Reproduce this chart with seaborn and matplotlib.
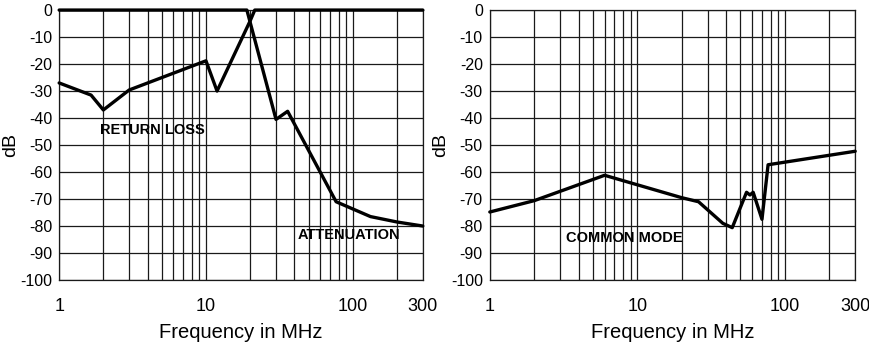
import numpy as np
import pandas as pd
import seaborn as sns
import matplotlib
matplotlib.use("Agg")
import matplotlib.pyplot as plt
from matplotlib.ticker import FixedLocator, NullFormatter

# values (frequency in MHz, level in dB)
atten_freq = [1, 19, 30, 36, 77, 132, 200, 300]
atten_db = [0, 0, -40.5, -37.5, -71, -76.5, -78.5, -80]

rloss_freq = [1, 1.65, 2, 3, 10, 11.9, 20, 21.5, 300]
rloss_db = [-27, -31.5, -37, -29.6, -18.8, -30, -4, 0, 0]

cm_freq = [1, 2, 6, 20, 26, 38, 44, 55, 58, 61, 70, 77, 300]
cm_db = [-74.8, -70.6, -61.2, -69.5, -71, -79, -80.6, -67.5, -68.5, -67.5, -77.5, -57.3, -52.3]

grid_x = [1, 2, 3, 4, 5, 6, 7, 8, 9, 10, 20, 30, 40, 50, 60, 70, 80, 90, 100, 200, 300]
xtick_vals = [1, 10, 100, 300]
xtick_labels = ["1", "10", "100", "300"]
ytick_vals = list(range(0, -101, -10))

sns.set_style("white")
plt.rcParams["font.family"] = ["Liberation Sans", "DejaVu Sans"]
plt.rcParams["text.color"] = "black"
plt.rcParams["axes.labelcolor"] = "black"
plt.rcParams["xtick.color"] = "black"
plt.rcParams["ytick.color"] = "black"

fig = plt.figure(figsize=(8.7, 3.47), dpi=100)
ax1 = fig.add_axes([0.068, 0.193, 0.418, 0.778])
ax2 = fig.add_axes([0.563, 0.193, 0.42, 0.778])


def style_axis(ax):
    ax.set_xscale("log")
    ax.set_xlim(1, 300)
    ax.set_ylim(-100, 0)
    ax.xaxis.set_major_locator(FixedLocator(xtick_vals))
    ax.xaxis.set_minor_locator(FixedLocator(grid_x))
    ax.xaxis.set_minor_formatter(NullFormatter())
    ax.set_xticklabels(xtick_labels)
    ax.set_yticks(ytick_vals)
    ax.set_yticklabels([str(v) for v in ytick_vals])
    for v in grid_x:
        ax.axvline(v, color="#1a1a1a", lw=0.9, zorder=1)
    for v in ytick_vals:
        ax.axhline(v, color="#1a1a1a", lw=0.9, zorder=1)
    ax.tick_params(axis="x", which="both", length=0, pad=13, labelsize=13)
    ax.tick_params(axis="y", length=0, pad=5, labelsize=11.5)
    for s in ax.spines.values():
        s.set_color("#1a1a1a")
        s.set_linewidth(0.9)
    ax.set_xlabel("Frequency in MHz", fontsize=14.5, labelpad=6)
    ax.set_ylabel("dB", fontsize=14, labelpad=1)


df_att = pd.DataFrame({"freq": atten_freq, "db": atten_db})
df_rl = pd.DataFrame({"freq": rloss_freq, "db": rloss_db})
df_cm = pd.DataFrame({"freq": cm_freq, "db": cm_db})

sns.lineplot(data=df_att, x="freq", y="db", ax=ax1, color="black", lw=2.4, zorder=3, sort=False, clip_on=False)
sns.lineplot(data=df_rl, x="freq", y="db", ax=ax1, color="black", lw=2.4, zorder=3, sort=False, clip_on=False)
sns.lineplot(data=df_cm, x="freq", y="db", ax=ax2, color="black", lw=2.4, zorder=3, sort=False, clip_on=False)

style_axis(ax1)
style_axis(ax2)

ax1.text(1.9, -44.5, "RETURN LOSS", fontsize=10.5, fontweight="bold", va="center", ha="left", zorder=4)
ax1.text(42, -83.3, "ATTENUATION", fontsize=10.5, fontweight="bold", va="center", ha="left", zorder=4)
ax2.text(3.3, -84.3, "COMMON MODE", fontsize=10.5, fontweight="bold", va="center", ha="left", zorder=4)

fig.savefig("out.png", dpi=100)
